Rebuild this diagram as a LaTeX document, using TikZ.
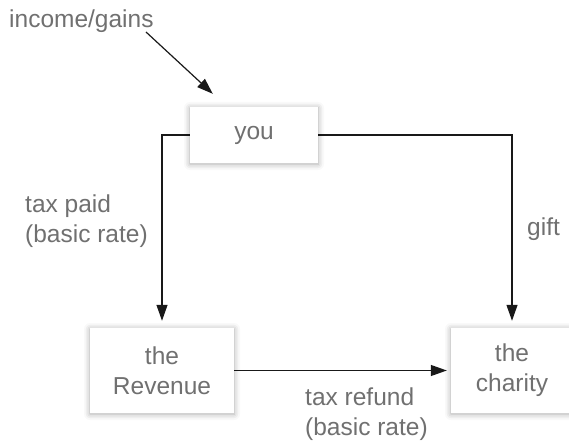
\documentclass[tikz,border=0pt]{standalone}
\usepackage{fontspec}
\setmainfont{Liberation Sans}
\usetikzlibrary{arrows.meta,shadows.blur,backgrounds}
\definecolor{txtgray}{HTML}{707070}
\tikzset{
  box/.style={fill=white, minimum height=56pt, align=center, text=txtgray,
    font=\fontsize{24.5}{30}\selectfont,
    blur shadow={shadow xshift=0pt, shadow yshift=-1pt, shadow blur radius=6pt, shadow opacity=35}},
  lbl/.style={align=left, text=txtgray, font=\fontsize{24.5}{30}\selectfont, inner sep=0pt, anchor=west},
  arr/.style={line width=1.2pt, draw=black!90, -{Triangle[length=16pt,width=11pt]}},
}
\begin{document}
\begin{tikzpicture}[x=1pt,y=-1pt]
\useasboundingbox (0,0) rectangle (569,443);
\node[box, minimum width=128pt] (you) at (254,135) {you};
\node[box, minimum width=144pt, minimum height=85pt] (rev) at (162,370.5) {the\\Revenue};
\node[box, minimum width=122pt, minimum height=85pt] (cha) at (512,370.5) {the\\charity};
\node[lbl] (inc) at (9,21) {income/gains};
\node[lbl] (paid) at (25,221) {tax paid\\(basic rate)};
\node[lbl] (gift) at (527,229) {gift};
\node[lbl] (refund) at (305,414) {tax refund\\(basic rate)};
\coordinate (inS) at (146,32);
\draw[arr] (inS) -- ([xshift=23pt,yshift=13pt]you.north west);
\begin{pgfonlayer}{background}
\draw[arr, shorten >=7pt] (you.center) -| (rev.north);
\draw[arr, shorten >=7pt] (you.center) -| (cha.north);
\draw[arr, shorten >=4pt] (rev.east) -- (cha.west);
\end{pgfonlayer}
\end{tikzpicture}
\end{document}
